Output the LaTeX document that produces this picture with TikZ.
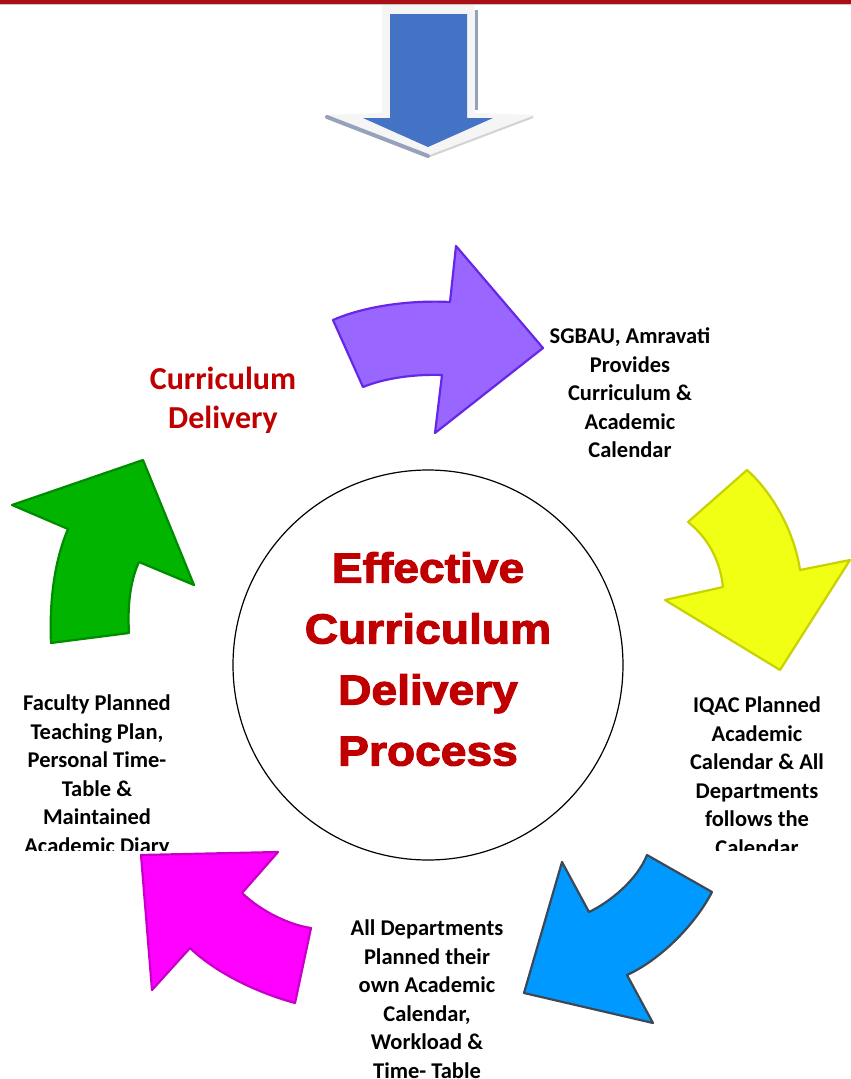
\documentclass[tikz,border=0pt]{standalone}
\usepackage{fontspec}
\setmainfont{Carlito}
\newfontfamily\blackfont[FakeStretch=1.1,BoldFeatures={FakeBold=2.6}]{Liberation Sans}
\definecolor{topred}{RGB}{170,15,20}
\definecolor{darkred}{RGB}{192,0,0}
\definecolor{arrblue}{RGB}{68,114,196}
\definecolor{shadowgray}{RGB}{150,162,186}
\definecolor{purplefill}{RGB}{153,102,255}
\definecolor{purpleline}{RGB}{102,40,230}
\definecolor{yellowfill}{RGB}{240,255,20}
\definecolor{yellowline}{RGB}{200,210,0}
\definecolor{bluefill}{RGB}{0,153,255}
\definecolor{blueline}{RGB}{60,72,85}
\definecolor{magentafill}{RGB}{255,0,255}
\definecolor{magentaline}{RGB}{200,0,200}
\definecolor{greenfill}{RGB}{0,180,0}
\definecolor{greenline}{RGB}{0,140,0}
\begin{document}
\begin{tikzpicture}[x=1pt,y=-1pt,
  bodytext/.style={font=\bfseries\fontsize{22.5}{28.5}\selectfont, align=center, text=black, inner sep=0pt},
  redlabel/.style={font=\bfseries\fontsize{32}{39}\selectfont, align=center, text=darkred, inner sep=0pt},
  centertext/.style={font=\blackfont\bfseries\fontsize{42}{61}\selectfont, align=center, text=darkred, inner sep=0pt},
  cyclearrow/.style={line width=2.2pt, line join=round}]
\useasboundingbox (0,0) rectangle (851,1079);
% top border
\fill[topred] (0,0) rectangle (851,3.5);
\draw[gray!45, line width=1pt] (0,4.5) -- (851,4.5);
% top down arrow (frame, shadow, blue arrow)
\fill[gray!8] (382,5) -- (475,5) -- (475,113) -- (535,115) -- (428,157) -- (325,115) -- (382,113) -- cycle;
\draw[shadowgray, line width=3pt] (476,10) -- (476,110);
\draw[shadowgray, line width=4pt, line cap=round] (327,117) -- (428,156);
\draw[gray!35, line width=2pt] (533,117) -- (430,156);
\fill[arrblue] (390,14) -- (467,14) -- (467,118) -- (493,118) -- (428,147) -- (363,118) -- (390,118) -- cycle;
% purple arrow
\filldraw[cyclearrow, fill=purplefill, draw=purpleline]
  (333,320) .. controls (365,306) and (410,300) .. (450,302)
  -- (456,246) -- (543,348) -- (435,433) -- (442,375)
  .. controls (415,374) and (385,378) .. (363,387) -- cycle;
% yellow arrow
\filldraw[cyclearrow, fill=yellowfill, draw=yellowline]
  (688,522) -- (747,470)
  .. controls (775,495) and (795,535) .. (800,570)
  -- (850,560) -- (780,670) -- (665,600) -- (723,587)
  .. controls (720,560) and (708,538) .. cycle;
% blue arrow
\filldraw[cyclearrow, fill=bluefill, draw=blueline]
  (647,855) -- (712,892)
  .. controls (695,925) and (660,960) .. (627,975)
  -- (653,1023) -- (524,993) -- (562,862) -- (589,912)
  .. controls (610,902) and (637,880) .. cycle;
% magenta arrow
\filldraw[cyclearrow, fill=magentafill, draw=magentaline]
  (141,855) -- (278,852) -- (242,893)
  .. controls (262,912) and (290,925) .. (311,928)
  -- (295,1003)
  .. controls (255,992) and (215,972) .. (190,948)
  -- (152,990) -- cycle;
% green arrow
\filldraw[cyclearrow, fill=greenfill, draw=greenline]
  (51,643) -- (129,633)
  .. controls (127,600) and (132,577) .. (139,562)
  -- (194,585) -- (143,460) -- (12,505) -- (68,529)
  .. controls (56,557) and (49,595) .. cycle;
% central circle
\node[circle, draw=black, line width=1.2pt, minimum size=390pt, inner sep=0pt] (hub) at (428,665) {};
\node[centertext] (title) at (428,659) {Effective\\Curriculum\\Delivery\\Process};
% labels
\node[redlabel] (deliv) at (223,400) {Curriculum\\Delivery};
\node[bodytext] (sgbau) at (630,393) {SGBAU, Amravati\\Provides\\Curriculum \&\\Academic\\Calendar};
\begin{scope}
\clip (0,0) rectangle (851,850);
\node[bodytext] (iqac) at (757,776) {IQAC Planned\\Academic\\Calendar \& All\\Departments\\follows the\\Calendar};
\node[bodytext] (faculty) at (97,776) {Faculty Planned\\Teaching Plan,\\Personal Time-\\Table \&\\Maintained\\Academic Diary};
\end{scope}
\node[bodytext] (depts) at (427,999) {All Departments\\Planned their\\own Academic\\Calendar,\\Workload \&\\Time- Table};
\end{tikzpicture}
\end{document}
